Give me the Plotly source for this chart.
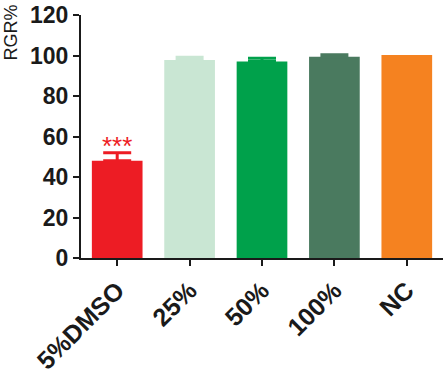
import plotly.graph_objects as go

categories = ["5%DMSO", "25%", "50%", "100%", "NC"]
values = [48, 97.8, 97, 99.4, 100.3]
errors = [4, 1.3, 1.6, 1.0, 0]
colors = ["#ED1C24", "#C9E6D3", "#00A14B", "#4A7A5F", "#F58220"]
y_ticks = [0, 20, 40, 60, 80, 100, 120]
sig_label = "***"

font_family = "Arial, Liberation Sans, sans-serif"

fig = go.Figure()
for cat, v, e, c in zip(categories, values, errors, colors):
    fig.add_trace(go.Bar(
        x=[cat], y=[v], width=0.7, marker=dict(color=c, line=dict(width=0)),
        error_y=dict(type="data", symmetric=False, array=[e], arrayminus=[0],
                     color=c, thickness=3, width=14, visible=e > 0),
        showlegend=False,
    ))

fig.add_annotation(x=categories[0], y=values[0] + errors[0] + 3.5, text=sig_label,
                   showarrow=False, yanchor="middle",
                   font=dict(family=font_family, size=26, color="#ED1C24"))

fig.add_annotation(xref="paper", yref="paper", x=-70/362, y=(258 - 32.5) / 243,
                   xanchor="center", yanchor="middle",
                   text="RGR%", textangle=-90, showarrow=False,
                   font=dict(family=font_family, size=18, color="#1a1a1a"))

fig.update_layout(
    width=447, height=374,
    margin=dict(l=81, r=4, t=15, b=116),
    paper_bgcolor="white", plot_bgcolor="white",
    barmode="overlay",
    font=dict(family=font_family, color="#1a1a1a"),
    xaxis=dict(range=[-0.5, 4.5], showline=True, linecolor="#1a1a1a", linewidth=2,
               ticks="outside", ticklen=6, tickwidth=2, tickcolor="#1a1a1a",
               tickangle=-45, tickfont=dict(size=25, family=font_family, weight="bold"),
               showgrid=False, zeroline=False, automargin=False),
    yaxis=dict(range=[0, 120], tickvals=y_ticks, showline=True, linecolor="#1a1a1a",
               linewidth=2, ticks="outside", ticklen=6, tickwidth=2, tickcolor="#1a1a1a",
               tickfont=dict(size=23, family=font_family, weight="bold"),
               showgrid=False, zeroline=False, automargin=False),
)

fig.write_html("out.html", config={"displayModeBar": False},
               post_script="document.body.style.margin='0px';")
